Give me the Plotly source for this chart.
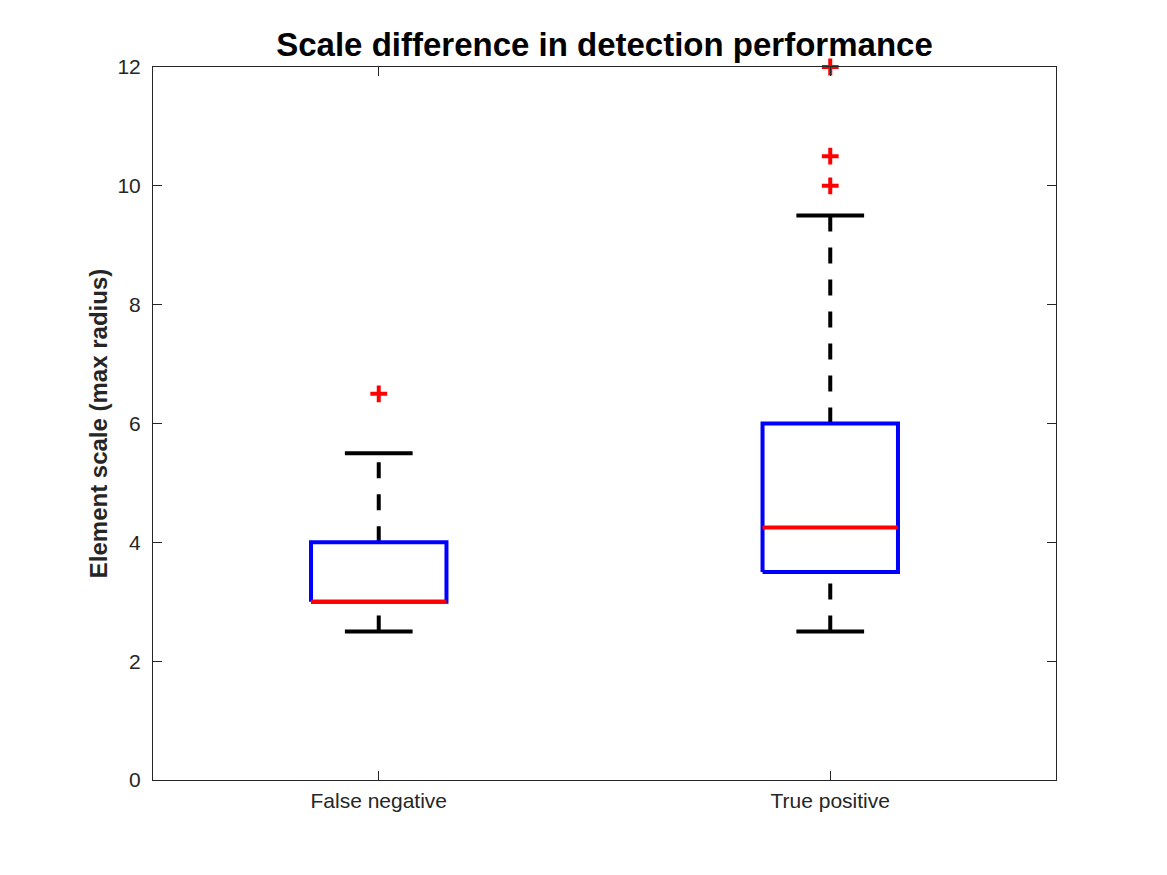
import plotly.graph_objects as go

categories = ["False negative", "True positive"]
positions = [1, 2]
q1 = [3.0, 3.5]
median = [3.0, 4.25]
q3 = [4.0, 6.0]
lower_whisker = [2.5, 2.5]
upper_whisker = [5.5, 9.5]
outliers = [[6.5], [10.0, 10.5, 12.0]]
y_ticks = [0, 2, 4, 6, 8, 10, 12]

box_half = 0.15
cap_half = 0.075
LW = 4

fig = go.Figure()
for i, p in enumerate(positions):
    # whiskers (dashed)
    fig.add_trace(go.Scatter(x=[p, p], y=[q3[i], upper_whisker[i]], mode="lines",
                             line=dict(color="black", width=LW, dash="16px,16px"),
                             showlegend=False, hoverinfo="skip"))
    fig.add_trace(go.Scatter(x=[p, p], y=[lower_whisker[i], q1[i]], mode="lines",
                             line=dict(color="black", width=LW, dash="16px,16px"),
                             showlegend=False, hoverinfo="skip"))
    # caps
    for v in (upper_whisker[i], lower_whisker[i]):
        fig.add_trace(go.Scatter(x=[p - cap_half, p + cap_half], y=[v, v], mode="lines",
                                 line=dict(color="black", width=LW),
                                 showlegend=False, hoverinfo="skip"))
    # box
    fig.add_trace(go.Scatter(x=[p - box_half, p + box_half, p + box_half, p - box_half, p - box_half],
                             y=[q1[i], q1[i], q3[i], q3[i], q1[i]], mode="lines",
                             line=dict(color="#0000ff", width=LW),
                             showlegend=False, hoverinfo="skip"))
    # median
    fig.add_trace(go.Scatter(x=[p - box_half, p + box_half], y=[median[i], median[i]], mode="lines",
                             line=dict(color="#ff0000", width=LW),
                             showlegend=False, hoverinfo="skip"))
    # outliers
    fig.add_trace(go.Scatter(x=[p] * len(outliers[i]), y=outliers[i], mode="markers",
                             marker=dict(symbol="cross-thin", size=12,
                                         line=dict(color="#ff0000", width=4)),
                             cliponaxis=False, showlegend=False, hoverinfo="skip"))

axis_color = "#262626"
fig.update_layout(
    width=1167, height=875,
    margin=dict(l=145, r=119, t=59, b=103),
    paper_bgcolor="white", plot_bgcolor="white",
    font=dict(family="Liberation Sans, Arial, Helvetica, sans-serif", color=axis_color),
    title=dict(text="<b>Scale difference in detection performance</b>",
               font=dict(size=33, color="black"),
               x=0.5, xref="paper", xanchor="center",
               y=1 - 36 / 875, yref="container", yanchor="middle"),
    xaxis=dict(range=[0.5, 2.5], tickvals=positions, ticktext=categories,
               showgrid=False, zeroline=False, showline=True, linecolor=axis_color, linewidth=1,
               mirror="ticks", ticks="inside", ticklen=9, tickcolor=axis_color,
               ticklabelstandoff=2,
               tickfont=dict(size=21, color=axis_color)),
    yaxis=dict(range=[0, 12], tickvals=y_ticks,
               showgrid=False, zeroline=False, showline=True, linecolor=axis_color, linewidth=1,
               mirror="ticks", ticks="inside", ticklen=9, tickcolor=axis_color,
               ticklabelstandoff=7,
               tickfont=dict(size=21, color=axis_color),
               title=dict(text="<b>Element scale (max radius)</b>",
                          font=dict(size=24, color=axis_color), standoff=3)),
)

fig.write_html("out.html")
